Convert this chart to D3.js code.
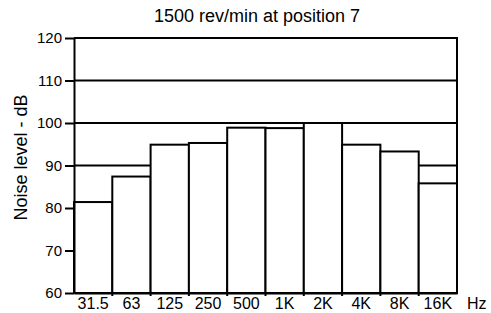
<!DOCTYPE html>
<html><head><meta charset="utf-8">
<script src="https://cdn.jsdelivr.net/npm/d3@7"></script>
<style>
body{margin:0;background:#fff;}
text{font-family:"Liberation Sans",Arial,sans-serif;fill:#000;}
</style></head><body>
<svg id="c" width="491" height="313"></svg>
<script>
const categories = ["31.5","63","125","250","500","1K","2K","4K","8K","16K"];
const values = [81.4, 87.4, 94.9, 95.3, 98.9, 98.8, 100, 94.9, 93.3, 85.8];
const yTicks = [60,70,80,90,100,110,120];
const gridValues = [90,100,110,120];
const title = "1500 rev/min at position 7";
const yLabel = "Noise level - dB";
const xUnit = "Hz";

const svg = d3.select("#c");
const L = 74, R = 457, T = 38, B = 293;
const x = d3.scaleBand().domain(categories).range([L, R]).padding(0);
const y = d3.scaleLinear().domain([60,120]).range([B, T]);

// grid lines
svg.append("g").selectAll("line").data(gridValues).join("line")
  .attr("x1", L).attr("x2", R)
  .attr("y1", d => y(d)).attr("y2", d => y(d))
  .attr("stroke", "#000").attr("stroke-width", 2);

// bars
svg.append("g").selectAll("rect").data(categories).join("rect")
  .attr("x", d => x(d)).attr("width", x.bandwidth())
  .attr("y", (d,i) => y(values[i])).attr("height", (d,i) => B - y(values[i]))
  .attr("fill", "#fff").attr("stroke", "#000").attr("stroke-width", 2);

// right frame
svg.append("line").attr("x1", R).attr("x2", R).attr("y1", T-1).attr("y2", B+1)
  .attr("stroke", "#000").attr("stroke-width", 2);

// y axis
const ya = svg.append("g").attr("transform", `translate(${L},0)`)
  .call(d3.axisLeft(y).tickValues(yTicks).tickSize(9).tickPadding(3).tickSizeOuter(0));
ya.selectAll("path,line").attr("stroke", "#000").attr("stroke-width", 2);
ya.selectAll("text").style("font-size", "15px").style("font-family", '"Liberation Sans",Arial,sans-serif');

// x axis
const xa = svg.append("g").attr("transform", `translate(0,${B})`)
  .call(d3.axisBottom(x).tickSize(0).tickPadding(5).tickSizeOuter(0));
xa.select(".domain").attr("stroke", "#000").attr("stroke-width", 2);
xa.selectAll("text").style("font-size", "16px").style("font-family", '"Liberation Sans",Arial,sans-serif');
// boundary ticks
svg.append("g").selectAll("line").data(categories.slice(1)).join("line")
  .attr("x1", d => x(d)).attr("x2", d => x(d)).attr("y1", B).attr("y2", B+3)
  .attr("stroke", "#000").attr("stroke-width", 2);

svg.append("text").attr("x", 467).attr("y", B + 5).attr("dy", "0.71em")
  .style("font-size", "16px").text(xUnit);

svg.append("text").attr("x", 257).attr("y", 22).attr("text-anchor", "middle")
  .style("font-size", "18px").text(title);

svg.append("text").attr("transform", "translate(27,157.5) rotate(-90)")
  .attr("text-anchor", "middle").style("font-size", "18px").text(yLabel);
</script></body></html>
